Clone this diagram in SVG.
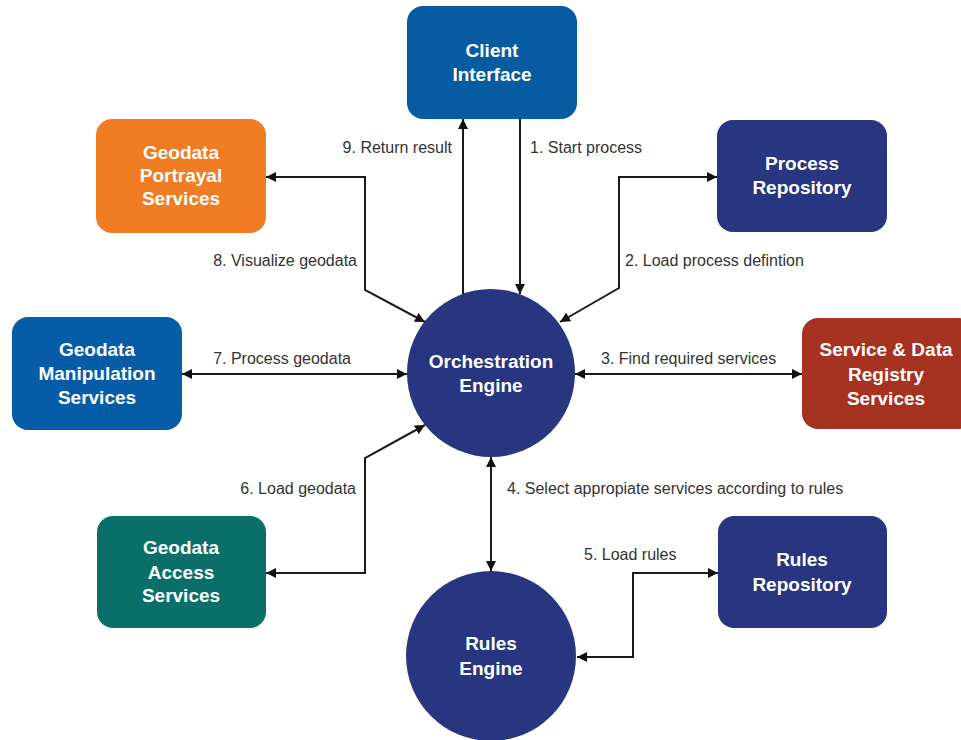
<svg xmlns="http://www.w3.org/2000/svg" width="961" height="740" viewBox="0 0 961 740">
<defs>
<style>
.node text{font-family:"Liberation Sans",Arial,sans-serif;font-weight:bold;font-size:19px;fill:#fff;text-anchor:middle}
.lbl{font-family:"Liberation Sans",Arial,sans-serif;font-size:16px;fill:#333}
.c path{fill:none;stroke:#1a1a1a;stroke-width:2}
</style>
<marker id="ah" viewBox="0 0 10 10" refX="10" refY="5" markerWidth="10" markerHeight="10" markerUnits="userSpaceOnUse" orient="auto-start-reverse">
<path d="M0,0 L10,5 L0,10 z" fill="#111"/>
</marker>
</defs>
<rect width="961" height="740" fill="#fff"/>
<g id="client" class="node"><rect x="407" y="6" width="170" height="113" rx="16" fill="#075ca1"/><text x="492" y="57">Client</text><text x="492" y="81">Interface</text></g>
<g id="portrayal" class="node"><rect x="96" y="119" width="170" height="114" rx="16" fill="#f07c24"/><text x="181" y="159">Geodata</text><text x="181" y="182">Portrayal</text><text x="181" y="205">Services</text></g>
<g id="procrepo" class="node"><rect x="717" y="120" width="170" height="112" rx="16" fill="#283580"/><text x="802" y="170">Process</text><text x="802" y="194">Repository</text></g>
<g id="manip" class="node"><rect x="12" y="317" width="170" height="113" rx="16" fill="#075ca8"/><text x="97" y="356">Geodata</text><text x="97" y="380">Manipulation</text><text x="97" y="404">Services</text></g>
<g id="registry" class="node"><rect x="802" y="318" width="172" height="111" rx="16" fill="#a63222"/><text x="886" y="356">Service &amp; Data</text><text x="886" y="381">Registry</text><text x="886" y="405">Services</text></g>
<g id="orch" class="node"><circle cx="491" cy="373" r="84" fill="#283580"/><text x="491" y="368">Orchestration</text><text x="491" y="392">Engine</text></g>
<g id="access" class="node"><rect x="97" y="516" width="169" height="112" rx="16" fill="#0a6f68"/><text x="181" y="554">Geodata</text><text x="181" y="579">Access</text><text x="181" y="602">Services</text></g>
<g id="rulesengine" class="node"><circle cx="491" cy="656" r="85" fill="#283580"/><text x="491" y="650">Rules</text><text x="491" y="675">Engine</text></g>
<g id="rulesrepo" class="node"><rect x="718" y="516" width="169" height="112" rx="16" fill="#283580"/><text x="802" y="566">Rules</text><text x="802" y="591">Repository</text></g>
<g id="connectors" class="c">
<path d="M463,294 L463,119" marker-end="url(#ah)"/>
<path d="M520,119 L520,294" marker-end="url(#ah)"/>
<path d="M425,322 L365,290 L365,177 L266,177" marker-start="url(#ah)" marker-end="url(#ah)"/>
<path d="M560,322 L619,288 L619,177 L717,177" marker-start="url(#ah)" marker-end="url(#ah)"/>
<path d="M182,374 L407,374" marker-start="url(#ah)" marker-end="url(#ah)"/>
<path d="M575,374 L802,374" marker-start="url(#ah)" marker-end="url(#ah)"/>
<path d="M425,425 L365,458 L365,573 L266,573" marker-start="url(#ah)" marker-end="url(#ah)"/>
<path d="M491,457 L491,571" marker-start="url(#ah)" marker-end="url(#ah)"/>
<path d="M577,657 L633,657 L633,573 L718,573" marker-start="url(#ah)" marker-end="url(#ah)"/>
</g>
<g id="labels">
<text class="lbl" x="452" y="153" text-anchor="end">9. Return result</text>
<text class="lbl" x="530" y="153">1. Start process</text>
<text class="lbl" x="357" y="266" text-anchor="end">8. Visualize geodata</text>
<text class="lbl" x="625" y="266">2. Load process defintion</text>
<text class="lbl" x="351" y="364" text-anchor="end">7. Process geodata</text>
<text class="lbl" x="601" y="364">3. Find required services</text>
<text class="lbl" x="356" y="494" text-anchor="end">6. Load geodata</text>
<text class="lbl" x="507" y="494">4. Select appropiate services according to rules</text>
<text class="lbl" x="584" y="560">5. Load rules</text>
</g>
</svg>
